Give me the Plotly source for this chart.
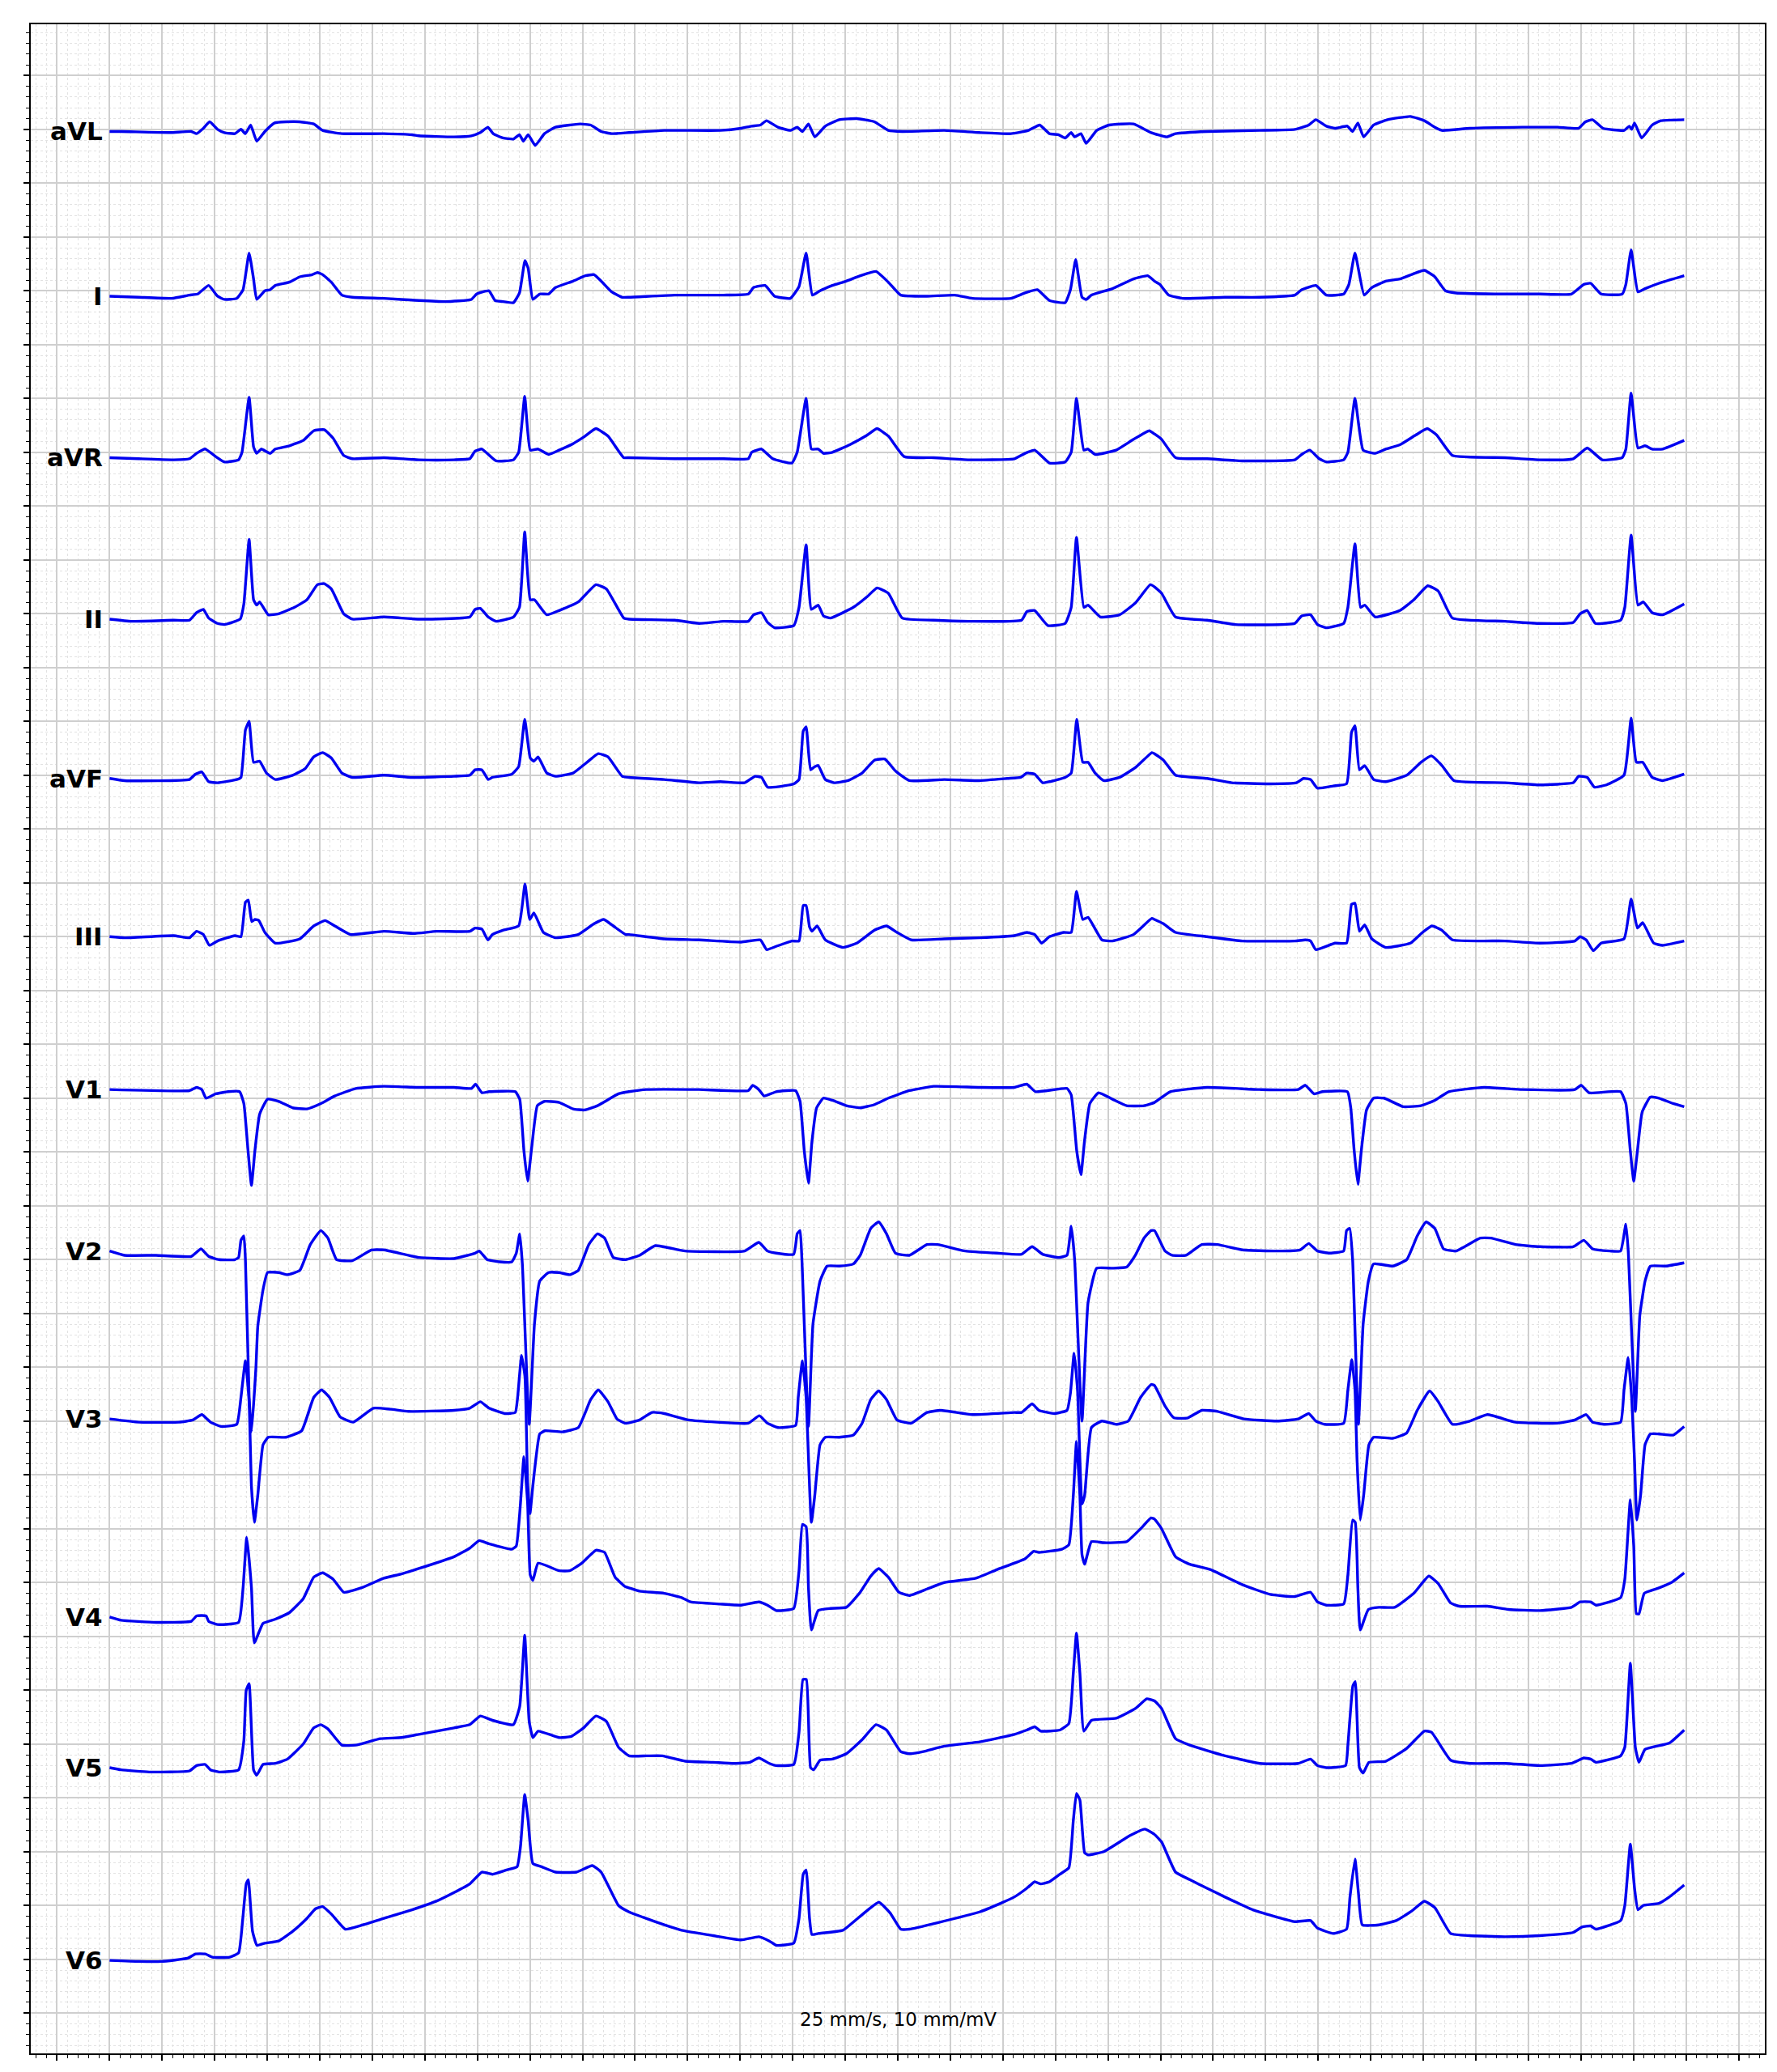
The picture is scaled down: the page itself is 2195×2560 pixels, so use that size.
import plotly.graph_objects as go

# 12-lead ECG, 6 s strip, 25 mm/s, 10 mm/mV
# each lead: (time s, amplitude mV) points, relative to its own baseline

AVL = [(0.000,-0.02),(0.044,-0.02),(0.231,-0.03),(0.311,-0.02),(0.331,-0.04),(0.357,0.01),(0.381,0.07),(0.411,0.00),(0.437,-0.03),(0.477,-0.04),(0.500,0.00),(0.517,-0.04),(0.537,0.04),(0.560,-0.11),(0.591,-0.02),(0.628,0.06),(0.671,0.07),(0.724,0.07),(0.777,0.05),(0.811,-0.01),(0.884,-0.04),(1.044,-0.04),(1.151,-0.05),(1.177,-0.06),(1.311,-0.07),(1.377,-0.06),(1.411,-0.03),(1.440,0.02),(1.460,-0.04),(1.497,-0.08),(1.537,-0.09),(1.560,-0.05),(1.575,-0.11),(1.593,-0.05),(1.620,-0.15),(1.655,-0.04),(1.697,0.02),(1.791,0.05),(1.831,0.04),(1.871,-0.02),(1.911,-0.04),
       (1.977,-0.03),(2.111,-0.01),(2.324,-0.01),(2.404,0.01),(2.444,0.03),(2.477,0.04),(2.500,0.08),(2.544,0.02),(2.591,-0.01),(2.617,0.02),(2.637,-0.02),(2.660,0.05),(2.684,-0.07),(2.724,0.03),(2.777,0.09),(2.844,0.10),(2.911,0.07),(2.964,-0.01),(3.017,-0.02),(3.177,-0.01),(3.311,-0.03),(3.431,-0.04),(3.497,-0.01),(3.540,0.04),(3.577,-0.04),(3.611,-0.05),(3.637,-0.08),(3.660,-0.03),(3.673,-0.07),(3.697,-0.04),(3.717,-0.13),(3.757,-0.01),(3.804,0.04),(3.897,0.05),(3.964,-0.03),
       (4.024,-0.07),(4.057,-0.04),(4.177,-0.02),(4.377,-0.01),(4.511,0.00),(4.564,0.04),(4.591,0.09),(4.631,0.03),(4.664,0.01),(4.711,0.03),(4.731,-0.02),(4.751,0.06),(4.773,-0.07),(4.811,0.04),(4.864,0.09),(4.951,0.12),(5.004,0.08),(5.044,0.02),(5.071,-0.01),(5.177,0.01),(5.377,0.02),(5.511,0.02),(5.591,0.01),(5.617,0.07),(5.644,0.09),(5.684,0.01),(5.764,-0.01),(5.784,0.03),(5.793,0.00),(5.804,0.06),(5.831,-0.08),(5.871,0.04),(5.904,0.08),(5.993,0.09)]

LEAD_I = [(0.000,-0.05),(0.111,-0.06),(0.237,-0.07),(0.304,-0.04),(0.335,-0.03),(0.377,0.05),(0.411,-0.05),(0.437,-0.08),(0.484,-0.07),(0.508,0.01),(0.531,0.35),(0.548,0.11),(0.560,-0.08),(0.591,0.00),(0.611,0.01),(0.631,0.05),(0.684,0.08),(0.724,0.13),(0.771,0.15),(0.791,0.17),(0.811,0.15),(0.844,0.08),(0.884,-0.04),(0.924,-0.06),(1.044,-0.07),(1.177,-0.09),(1.277,-0.10),(1.377,-0.08),(1.397,-0.03),(1.444,0.00),(1.467,-0.09),(1.497,-0.10),(1.537,-0.11),(1.560,-0.02),(1.581,0.28),(1.593,0.21),(1.611,-0.08),(1.637,-0.03),(1.671,-0.03),(1.697,0.03),(1.764,0.09),(1.811,0.14),(1.844,0.15),(1.871,0.09),(1.911,-0.01),(1.951,-0.06),
          (1.977,-0.06),(2.151,-0.04),(2.337,-0.04),(2.431,-0.03),(2.451,0.03),(2.495,0.05),(2.531,-0.05),(2.591,-0.07),(2.624,0.04),(2.651,0.35),(2.675,-0.04),(2.704,0.00),(2.751,0.05),(2.804,0.09),(2.857,0.14),(2.917,0.18),(2.964,0.08),(3.011,-0.04),(3.111,-0.05),(3.217,-0.04),(3.284,-0.07),(3.431,-0.07),(3.484,-0.02),(3.531,0.01),(3.577,-0.09),(3.637,-0.11),(3.657,0.01),(3.677,0.29),(3.701,-0.06),(3.717,-0.08),(3.737,-0.04),(3.817,0.02),(3.897,0.11),(3.951,0.14),
          (3.977,0.09),(3.997,0.06),(4.031,-0.04),(4.084,-0.07),(4.244,-0.06),(4.377,-0.06),(4.511,-0.04),(4.537,0.01),(4.591,0.05),(4.631,-0.04),(4.697,-0.03),(4.717,0.06),(4.740,0.35),(4.775,-0.04),(4.804,0.03),(4.857,0.09),(4.911,0.11),(4.964,0.16),(5.004,0.19),(5.044,0.13),(5.084,0.00),(5.124,-0.02),(5.311,-0.03),(5.444,-0.03),(5.564,-0.03),(5.611,0.06),(5.637,0.07),(5.677,-0.03),(5.757,-0.03),(5.771,0.06),(5.791,0.38),(5.817,-0.01),(5.844,0.02),(5.897,0.07),(5.993,0.14)]

AVR = [(0.000,-0.05),(0.111,-0.06),(0.244,-0.07),(0.304,-0.06),(0.331,-0.01),(0.364,0.03),(0.404,-0.04),(0.437,-0.09),(0.491,-0.07),(0.504,0.00),(0.531,0.51),(0.548,0.05),(0.560,-0.01),(0.577,0.03),(0.611,-0.01),(0.631,0.03),(0.684,0.06),(0.737,0.11),(0.777,0.20),(0.817,0.21),(0.851,0.13),(0.891,-0.03),(0.924,-0.06),(1.044,-0.05),(1.177,-0.07),(1.311,-0.07),(1.371,-0.06),(1.391,0.01),(1.417,0.03),(1.471,-0.08),(1.537,-0.07),(1.557,0.00),(1.580,0.52),(1.601,0.02),(1.631,0.03),(1.671,-0.02),(1.711,0.02),(1.764,0.08),(1.804,0.14),(1.851,0.22),(1.897,0.15),(1.957,-0.05),
       (1.977,-0.05),(2.151,-0.06),(2.337,-0.06),(2.431,-0.06),(2.444,0.00),(2.481,0.03),(2.524,-0.06),(2.597,-0.10),(2.617,0.00),(2.651,0.50),(2.671,0.03),(2.697,0.03),(2.717,-0.01),(2.751,0.00),(2.817,0.07),(2.884,0.16),(2.921,0.22),(2.964,0.15),(3.024,-0.04),(3.137,-0.05),(3.271,-0.07),(3.444,-0.06),(3.484,-0.01),(3.521,0.02),(3.577,-0.10),(3.637,-0.09),(3.660,0.00),(3.680,0.50),(3.708,0.02),(3.724,0.03),(3.751,-0.02),(3.831,0.02),(3.897,0.12),(3.957,0.20),
       (3.977,0.17),(4.004,0.12),(4.057,-0.05),(4.177,-0.06),(4.311,-0.08),(4.511,-0.07),(4.537,-0.02),(4.568,0.02),(4.604,-0.06),(4.631,-0.09),(4.697,-0.07),(4.713,0.00),(4.740,0.50),(4.771,0.02),(4.817,-0.01),(4.857,0.03),(4.911,0.07),(4.971,0.16),(5.015,0.22),(5.051,0.16),(5.111,-0.03),(5.311,-0.05),(5.444,-0.07),(5.571,-0.06),(5.624,0.04),(5.681,-0.07),(5.757,-0.05),(5.771,0.03),(5.791,0.55),(5.817,0.04),(5.844,0.06),(5.871,0.03),(5.911,0.03),(5.993,0.11)]

LEAD_II = [(0.000,-0.05),(0.084,-0.07),(0.244,-0.06),(0.304,-0.06),(0.331,0.01),(0.357,0.04),(0.377,-0.04),(0.411,-0.09),(0.437,-0.10),(0.497,-0.05),(0.511,0.09),(0.531,0.69),(0.548,0.13),(0.560,0.08),(0.571,0.11),(0.604,-0.01),(0.644,0.00),(0.704,0.06),(0.751,0.13),(0.791,0.27),(0.817,0.28),(0.844,0.23),(0.891,0.00),(0.924,-0.05),(1.044,-0.03),(1.177,-0.05),(1.371,-0.03),(1.391,0.04),(1.411,0.05),(1.441,-0.03),(1.471,-0.07),(1.537,-0.03),(1.560,0.06),(1.580,0.76),(1.601,0.13),(1.617,0.13),(1.664,-0.01),(1.711,0.03),(1.784,0.11),(1.851,0.27),(1.891,0.23),(1.957,-0.04),
           (1.977,-0.05),(2.151,-0.06),(2.244,-0.09),(2.337,-0.07),(2.431,-0.07),(2.451,-0.01),(2.481,0.01),(2.504,-0.08),(2.531,-0.13),(2.604,-0.11),(2.624,0.06),(2.651,0.64),(2.671,0.04),(2.697,0.08),(2.717,-0.02),(2.744,-0.04),(2.831,0.06),(2.884,0.16),(2.921,0.24),(2.964,0.19),(3.017,-0.04),(3.137,-0.06),(3.271,-0.07),(3.471,-0.06),(3.491,0.02),(3.521,0.03),(3.571,-0.11),(3.637,-0.09),(3.660,0.06),(3.680,0.71),(3.708,0.06),(3.724,0.08),(3.771,-0.03),(3.844,-0.01),(3.904,0.10),(3.961,0.27),
           (3.977,0.25),(4.004,0.19),(4.057,-0.03),(4.177,-0.06),(4.284,-0.10),(4.511,-0.09),(4.537,-0.02),(4.571,-0.01),(4.597,-0.10),(4.631,-0.13),(4.697,-0.09),(4.713,0.06),(4.740,0.65),(4.761,0.06),(4.777,0.08),(4.817,-0.03),(4.911,0.03),(4.964,0.13),(5.017,0.26),(5.057,0.21),(5.111,-0.04),(5.311,-0.07),(5.444,-0.09),(5.571,-0.08),(5.597,0.00),(5.624,0.03),(5.655,-0.09),(5.751,-0.06),(5.767,0.06),(5.791,0.73),(5.817,0.08),(5.837,0.11),(5.871,0.01),(5.911,-0.01),(5.993,0.09)]

AVF = [(0.000,-0.03),(0.057,-0.05),(0.304,-0.04),(0.327,0.01),(0.351,0.03),(0.377,-0.06),(0.411,-0.07),(0.484,-0.04),(0.500,-0.02),(0.517,0.42),(0.531,0.50),(0.548,0.12),(0.571,0.13),(0.597,0.02),(0.631,-0.04),(0.697,0.00),(0.744,0.06),(0.777,0.17),(0.811,0.21),(0.844,0.16),(0.884,0.02),(0.924,-0.02),(1.044,0.00),(1.151,-0.02),(1.311,-0.01),(1.371,0.00),(1.391,0.05),(1.417,0.05),(1.441,-0.04),(1.457,-0.02),(1.531,0.01),(1.557,0.08),(1.580,0.52),(1.601,0.16),(1.615,0.13),(1.631,0.17),(1.664,0.02),(1.697,-0.01),(1.764,0.02),(1.817,0.12),(1.860,0.20),(1.897,0.17),(1.951,-0.01),
       (1.977,-0.02),(2.111,-0.04),(2.244,-0.07),(2.324,-0.06),(2.417,-0.07),(2.437,-0.04),(2.457,-0.01),(2.481,-0.02),(2.504,-0.11),(2.537,-0.11),(2.604,-0.08),(2.624,-0.04),(2.640,0.41),(2.651,0.45),(2.668,0.05),(2.684,0.08),(2.697,0.09),(2.724,-0.04),(2.757,-0.07),(2.811,-0.05),(2.864,0.02),(2.911,0.14),(2.951,0.15),(2.991,0.04),(3.044,-0.05),(3.177,-0.04),(3.311,-0.05),(3.417,-0.03),(3.468,-0.02),(3.491,0.02),(3.521,0.01),(3.551,-0.07),(3.577,-0.06),(3.637,-0.02),(3.660,0.02),(3.681,0.52),(3.704,0.12),(3.724,0.12),(3.751,0.02),(3.784,-0.05),(3.844,-0.02),(3.904,0.07),(3.967,0.21),
       (3.977,0.20),(4.011,0.14),(4.057,0.00),(4.177,-0.03),(4.271,-0.07),(4.417,-0.08),(4.517,-0.07),(4.544,-0.03),(4.571,-0.04),(4.597,-0.12),(4.657,-0.10),(4.708,-0.08),(4.727,0.40),(4.740,0.46),(4.757,0.05),(4.777,0.09),(4.811,-0.04),(4.857,-0.06),(4.937,0.00),(4.991,0.12),(5.031,0.18),(5.071,0.09),(5.117,-0.05),(5.311,-0.07),(5.444,-0.09),(5.571,-0.07),(5.591,-0.01),(5.624,-0.02),(5.651,-0.11),(5.697,-0.09),(5.764,0.00),(5.791,0.53),(5.811,0.12),(5.835,0.12),(5.871,-0.02),(5.911,-0.05),(5.993,0.01)]

LEAD_III = [(0.000,0.00),(0.057,-0.01),(0.244,0.01),(0.304,-0.01),(0.331,0.05),(0.357,0.02),(0.380,-0.08),(0.411,-0.04),(0.477,0.01),(0.500,0.00),(0.517,0.32),(0.528,0.34),(0.541,0.14),(0.553,0.16),(0.568,0.15),(0.591,0.04),(0.631,-0.06),(0.724,-0.02),(0.777,0.10),(0.820,0.15),(0.857,0.10),(0.917,0.02),(1.044,0.05),(1.157,0.03),(1.244,0.05),(1.371,0.05),(1.391,0.08),(1.417,0.07),(1.440,-0.03),(1.457,0.02),(1.497,0.06),(1.557,0.10),(1.581,0.49),(1.599,0.16),(1.615,0.22),(1.651,0.04),(1.697,-0.01),(1.784,0.02),(1.844,0.12),(1.881,0.16),(1.917,0.10),(1.964,0.02),
            (1.977,0.02),(2.111,-0.02),(2.244,-0.03),(2.404,-0.05),(2.477,-0.03),(2.501,-0.12),(2.537,-0.09),(2.597,-0.04),(2.624,-0.04),(2.640,0.29),(2.651,0.29),(2.664,0.09),(2.673,0.05),(2.693,0.10),(2.724,-0.03),(2.791,-0.10),(2.844,-0.06),(2.911,0.06),(2.957,0.10),(2.997,0.04),(3.051,-0.03),(3.177,-0.02),(3.311,-0.01),(3.444,0.01),(3.491,0.04),(3.521,0.02),(3.547,-0.06),(3.577,0.00),(3.631,0.04),(3.660,0.04),(3.680,0.42),(3.704,0.16),(3.724,0.18),(3.777,-0.03),(3.817,-0.04),(3.897,0.02),(3.967,0.17),
            (3.977,0.16),(4.011,0.12),(4.057,0.04),(4.177,0.00),(4.311,-0.04),(4.511,-0.04),(4.551,-0.03),(4.571,-0.04),(4.591,-0.12),(4.664,-0.06),(4.708,-0.06),(4.727,0.30),(4.740,0.31),(4.757,0.05),(4.777,0.11),(4.804,-0.02),(4.857,-0.10),(4.951,-0.06),(4.997,0.04),(5.033,0.10),(5.071,0.06),(5.111,-0.03),(5.311,-0.04),(5.444,-0.06),(5.577,-0.04),(5.597,0.00),(5.620,-0.03),(5.647,-0.13),(5.677,-0.06),(5.764,-0.02),(5.791,0.35),(5.815,0.08),(5.835,0.13),(5.877,-0.06),(5.911,-0.08),(5.993,-0.04)]

V1 = [(0.000,0.08),(0.304,0.07),(0.331,0.10),(0.351,0.08),(0.367,0.00),(0.404,0.04),(0.451,0.06),(0.495,0.06),(0.511,-0.05),(0.527,-0.49),(0.540,-0.81),(0.553,-0.49),(0.571,-0.15),(0.601,-0.01),(0.644,-0.03),(0.697,-0.09),(0.751,-0.10),(0.804,-0.05),(0.857,0.02),(0.937,0.09),(1.044,0.11),(1.177,0.10),(1.311,0.10),(1.377,0.09),(1.393,0.13),(1.417,0.05),(1.444,0.06),(1.544,0.06),(1.561,-0.01),(1.577,-0.49),(1.591,-0.77),(1.607,-0.45),(1.628,-0.07),(1.655,-0.03),(1.711,-0.04),(1.764,-0.10),(1.807,-0.11),(1.857,-0.07),(1.937,0.04),
      (1.977,0.06),(2.044,0.08),(2.244,0.08),(2.431,0.07),(2.448,0.12),(2.471,0.08),(2.491,0.02),(2.537,0.06),(2.611,0.07),(2.628,-0.03),(2.644,-0.49),(2.660,-0.79),(2.673,-0.41),(2.691,-0.09),(2.717,0.00),(2.751,-0.02),(2.804,-0.07),(2.857,-0.09),(2.911,-0.06),(2.964,0.00),(3.044,0.07),(3.137,0.11),(3.311,0.10),(3.444,0.10),(3.491,0.13),(3.524,0.06),(3.644,0.09),(3.660,0.03),(3.681,-0.49),(3.697,-0.71),(3.711,-0.39),(3.731,-0.05),(3.764,0.05),(3.817,-0.01),(3.871,-0.07),(3.937,-0.07),
      (3.977,-0.04),(4.037,0.06),(4.177,0.10),(4.377,0.08),(4.524,0.08),(4.551,0.12),(4.584,0.04),(4.617,0.06),(4.711,0.06),(4.724,-0.09),(4.737,-0.49),(4.751,-0.80),(4.764,-0.49),(4.784,-0.11),(4.811,0.00),(4.851,0.00),(4.924,-0.08),(4.991,-0.07),(5.044,-0.02),(5.097,0.06),(5.231,0.10),(5.377,0.08),(5.577,0.08),(5.601,0.12),(5.631,0.05),(5.751,0.06),(5.771,-0.05),(5.788,-0.49),(5.801,-0.77),(5.815,-0.49),(5.833,-0.13),(5.864,0.01),(5.897,0.00),(5.951,-0.05),(5.993,-0.08)]

V2 = [(0.000,0.08),(0.057,0.04),(0.177,0.04),(0.311,0.03),(0.348,0.10),(0.377,0.03),(0.417,0.00),(0.477,0.00),(0.491,0.02),(0.500,0.18),(0.511,0.22),(0.517,0.00),(0.531,-1.27),(0.540,-1.60),(0.557,-1.00),(0.564,-0.62),(0.584,-0.28),(0.601,-0.12),(0.644,-0.12),(0.677,-0.14),(0.724,-0.10),(0.764,0.14),(0.804,0.27),(0.831,0.20),(0.864,0.00),(0.924,-0.01),(0.997,0.09),(1.044,0.09),(1.177,0.02),(1.311,0.01),(1.391,0.06),(1.407,0.08),(1.437,0.00),(1.484,-0.02),(1.531,-0.02),(1.548,0.06),(1.561,0.24),(1.571,-0.04),(1.597,-1.53),(1.617,-0.60),(1.637,-0.20),(1.671,-0.12),(1.711,-0.12),(1.751,-0.14),(1.784,-0.10),(1.824,0.14),(1.857,0.24),(1.884,0.20),(1.917,0.02),(1.964,0.00),
      (2.017,0.04),(2.077,0.13),(2.191,0.08),(2.417,0.08),(2.471,0.16),(2.504,0.08),(2.537,0.06),(2.604,0.05),(2.617,0.24),(2.628,0.27),(2.635,0.00),(2.660,-1.55),(2.677,-0.60),(2.704,-0.20),(2.731,-0.06),(2.777,-0.06),(2.831,-0.04),(2.857,0.04),(2.897,0.29),(2.927,0.35),(2.957,0.24),(2.991,0.06),(3.044,0.04),(3.111,0.14),(3.151,0.14),(3.257,0.08),(3.377,0.06),(3.471,0.05),(3.511,0.12),(3.551,0.05),(3.611,0.02),(3.644,0.04),(3.660,0.31),(3.673,0.00),(3.701,-1.50),(3.724,-0.40),(3.757,-0.08),(3.817,-0.08),(3.871,-0.07),(3.904,0.04),(3.937,0.20),(3.964,0.27),
      (3.977,0.27),(4.017,0.08),(4.044,0.04),(4.097,0.04),(4.157,0.14),(4.217,0.14),(4.311,0.09),(4.444,0.08),(4.531,0.09),(4.564,0.15),(4.597,0.08),(4.644,0.06),(4.697,0.08),(4.708,0.27),(4.720,0.29),(4.731,0.00),(4.753,-1.53),(4.771,-0.60),(4.791,-0.20),(4.811,-0.04),(4.884,-0.06),(4.937,0.00),(4.977,0.22),(5.011,0.35),(5.044,0.29),(5.077,0.10),(5.124,0.08),(5.217,0.20),(5.257,0.20),(5.351,0.14),(5.444,0.12),(5.571,0.12),(5.611,0.18),(5.644,0.10),(5.711,0.08),(5.751,0.08),(5.771,0.33),(5.780,0.08),(5.807,-1.41),(5.824,-0.52),(5.844,-0.20),(5.864,-0.06),(5.924,-0.06),(5.993,-0.03)]

V3 = [(0.000,0.02),(0.111,-0.01),(0.264,-0.01),(0.317,0.01),(0.351,0.06),(0.384,-0.01),(0.424,-0.05),(0.484,-0.03),(0.500,0.22),(0.517,0.56),(0.531,0.18),(0.540,-0.61),(0.551,-0.94),(0.564,-0.69),(0.584,-0.22),(0.604,-0.15),(0.671,-0.15),(0.731,-0.09),(0.777,0.22),(0.807,0.29),(0.837,0.22),(0.877,0.04),(0.927,-0.01),(1.004,0.12),(1.071,0.11),(1.137,0.09),(1.311,0.10),(1.371,0.12),(1.411,0.18),(1.444,0.12),(1.504,0.07),(1.544,0.08),(1.553,0.22),(1.568,0.61),(1.581,0.41),(1.591,-0.57),(1.600,-0.86),(1.611,-0.60),(1.637,-0.12),(1.657,-0.09),(1.724,-0.10),(1.784,-0.06),(1.831,0.20),(1.860,0.29),(1.897,0.18),(1.931,0.02),(1.964,-0.02),
      (2.017,0.01),(2.064,0.08),(2.111,0.07),(2.204,0.01),(2.311,-0.01),(2.431,-0.02),(2.473,0.05),(2.504,-0.02),(2.544,-0.06),(2.611,-0.04),(2.621,0.22),(2.637,0.56),(2.651,0.22),(2.671,-0.94),(2.684,-0.69),(2.704,-0.22),(2.724,-0.15),(2.777,-0.15),(2.831,-0.13),(2.864,-0.02),(2.897,0.20),(2.927,0.28),(2.957,0.20),(2.997,0.01),(3.051,-0.02),(3.111,0.08),(3.164,0.10),(3.284,0.06),(3.444,0.08),(3.471,0.08),(3.511,0.16),(3.537,0.10),(3.597,0.07),(3.644,0.10),(3.657,0.26),(3.671,0.63),(3.684,0.29),(3.701,-0.77),(3.711,-0.69),(3.737,-0.06),(3.777,0.00),(3.831,-0.03),(3.877,0.00),(3.924,0.22),(3.964,0.34),
      (3.977,0.33),(4.017,0.14),(4.051,0.03),(4.104,0.03),(4.157,0.10),(4.217,0.09),(4.317,0.02),(4.444,0.00),(4.524,0.02),(4.564,0.07),(4.591,0.00),(4.624,-0.03),(4.697,-0.02),(4.713,0.29),(4.728,0.57),(4.740,0.29),(4.748,-0.37),(4.760,-0.92),(4.773,-0.69),(4.793,-0.22),(4.811,-0.15),(4.884,-0.16),(4.937,-0.11),(4.977,0.10),(5.024,0.28),(5.057,0.18),(5.111,-0.03),(5.177,0.00),(5.244,0.06),(5.351,-0.01),(5.511,-0.02),(5.577,0.01),(5.620,0.06),(5.644,-0.01),(5.691,-0.03),(5.751,-0.01),(5.764,0.29),(5.780,0.59),(5.793,0.22),(5.804,-0.37),(5.813,-0.92),(5.827,-0.69),(5.844,-0.22),(5.864,-0.12),(5.897,-0.12),(5.951,-0.13),(5.993,-0.05)]

V4 = [(0.000,-0.32),(0.044,-0.35),(0.177,-0.37),(0.311,-0.36),(0.331,-0.31),(0.367,-0.31),(0.377,-0.36),(0.411,-0.39),(0.491,-0.37),(0.508,-0.05),(0.522,0.42),(0.540,-0.05),(0.551,-0.56),(0.584,-0.38),(0.631,-0.34),(0.684,-0.28),(0.737,-0.15),(0.777,0.05),(0.811,0.09),(0.851,0.03),(0.891,-0.09),(0.957,-0.05),(1.044,0.04),(1.111,0.08),(1.177,0.13),(1.311,0.24),(1.371,0.32),(1.407,0.39),(1.444,0.36),(1.531,0.31),(1.548,0.34),(1.564,0.74),(1.577,1.17),(1.591,0.74),(1.601,0.07),(1.611,0.02),(1.631,0.18),(1.711,0.11),(1.751,0.11),(1.797,0.18),(1.851,0.30),(1.884,0.28),(1.924,0.05),(1.964,-0.04),
      (1.977,-0.05),(2.017,-0.08),(2.111,-0.10),(2.177,-0.14),(2.211,-0.18),(2.324,-0.20),(2.404,-0.21),(2.471,-0.18),(2.504,-0.21),(2.537,-0.26),(2.604,-0.24),(2.624,0.11),(2.637,0.54),(2.651,0.52),(2.660,-0.05),(2.671,-0.44),(2.697,-0.26),(2.744,-0.24),(2.804,-0.23),(2.857,-0.09),(2.897,0.06),(2.927,0.13),(2.964,0.05),(3.004,-0.09),(3.044,-0.12),(3.111,-0.06),(3.177,0.00),(3.297,0.04),(3.377,0.12),(3.484,0.22),(3.517,0.29),(3.537,0.28),(3.624,0.31),(3.651,0.35),(3.668,0.81),(3.680,1.31),(3.693,0.81),(3.701,0.26),(3.711,0.17),(3.737,0.38),(3.784,0.37),(3.871,0.38),(3.924,0.50),(3.964,0.60),
      (3.977,0.59),(4.004,0.50),(4.057,0.24),(4.111,0.17),(4.191,0.12),(4.311,-0.02),(4.417,-0.11),(4.511,-0.13),(4.571,-0.09),(4.597,-0.18),(4.631,-0.21),(4.697,-0.20),(4.713,0.07),(4.731,0.58),(4.741,0.56),(4.751,-0.05),(4.760,-0.44),(4.791,-0.25),(4.831,-0.23),(4.891,-0.23),(4.964,-0.10),(5.021,0.06),(5.057,-0.01),(5.104,-0.19),(5.137,-0.22),(5.244,-0.22),(5.324,-0.25),(5.444,-0.26),(5.564,-0.23),(5.597,-0.18),(5.637,-0.18),(5.657,-0.21),(5.751,-0.14),(5.767,0.03),(5.788,0.77),(5.801,0.34),(5.811,-0.29),(5.821,-0.29),(5.841,-0.10),(5.897,-0.05),(5.944,0.00),(5.993,0.09)]

V5 = [(0.000,-0.22),(0.044,-0.24),(0.151,-0.26),(0.304,-0.25),(0.331,-0.20),(0.364,-0.19),(0.384,-0.24),(0.417,-0.26),(0.491,-0.24),(0.511,0.03),(0.520,0.50),(0.531,0.56),(0.548,-0.24),(0.560,-0.29),(0.584,-0.19),(0.631,-0.18),(0.677,-0.14),(0.737,0.00),(0.777,0.15),(0.804,0.18),(0.831,0.14),(0.884,-0.01),(0.937,-0.01),(1.031,0.05),(1.111,0.06),(1.177,0.09),(1.311,0.15),(1.371,0.18),(1.411,0.26),(1.457,0.22),(1.537,0.18),(1.561,0.35),(1.580,1.01),(1.597,0.21),(1.611,0.06),(1.631,0.12),(1.711,0.06),(1.757,0.07),(1.804,0.15),(1.851,0.26),(1.891,0.21),(1.937,-0.03),
      (1.977,-0.11),(2.044,-0.11),(2.104,-0.11),(2.191,-0.16),(2.297,-0.17),(2.377,-0.18),(2.437,-0.17),(2.471,-0.13),(2.511,-0.18),(2.537,-0.20),(2.604,-0.19),(2.624,0.11),(2.639,0.60),(2.652,0.60),(2.668,-0.22),(2.680,-0.24),(2.704,-0.15),(2.751,-0.14),(2.804,-0.09),(2.864,0.04),(2.917,0.18),(2.957,0.13),(3.011,-0.07),(3.044,-0.09),(3.097,-0.07),(3.177,-0.02),(3.311,0.02),(3.444,0.09),(3.491,0.13),(3.521,0.16),(3.544,0.12),(3.617,0.13),(3.651,0.19),(3.668,0.66),(3.680,1.03),(3.693,0.66),(3.708,0.12),(3.737,0.22),(3.831,0.24),(3.904,0.33),(3.948,0.42),
      (3.977,0.40),(4.004,0.33),(4.057,0.05),(4.111,-0.01),(4.231,-0.10),(4.377,-0.18),(4.524,-0.18),(4.571,-0.14),(4.597,-0.20),(4.631,-0.22),(4.704,-0.20),(4.713,-0.01),(4.732,0.54),(4.741,0.58),(4.757,-0.22),(4.771,-0.27),(4.793,-0.17),(4.857,-0.16),(4.937,-0.04),(5.004,0.12),(5.031,0.11),(5.104,-0.15),(5.177,-0.18),(5.311,-0.18),(5.444,-0.20),(5.564,-0.18),(5.611,-0.13),(5.637,-0.14),(5.657,-0.17),(5.751,-0.11),(5.767,-0.03),(5.788,0.75),(5.807,-0.03),(5.821,-0.17),(5.844,-0.05),(5.937,0.01),(5.993,0.13)]

V6 = [(0.000,-0.51),(0.111,-0.52),(0.197,-0.52),(0.297,-0.49),(0.327,-0.45),(0.364,-0.45),(0.391,-0.48),(0.457,-0.48),(0.491,-0.44),(0.507,-0.12),(0.520,0.20),(0.528,0.24),(0.544,-0.24),(0.561,-0.37),(0.591,-0.35),(0.644,-0.33),(0.697,-0.24),(0.751,-0.12),(0.784,-0.03),(0.811,-0.01),(0.844,-0.08),(0.897,-0.22),(0.964,-0.18),(1.044,-0.12),(1.151,-0.04),(1.244,0.04),(1.311,0.12),(1.371,0.20),(1.417,0.31),(1.457,0.29),(1.511,0.33),(1.551,0.36),(1.564,0.55),(1.580,1.03),(1.593,0.79),(1.611,0.39),(1.644,0.36),(1.697,0.31),(1.777,0.31),(1.837,0.37),(1.871,0.31),(1.937,0.00),
      (1.977,-0.06),(2.031,-0.11),(2.111,-0.18),(2.177,-0.23),(2.297,-0.28),(2.404,-0.32),(2.471,-0.29),(2.511,-0.33),(2.537,-0.37),(2.604,-0.35),(2.624,-0.12),(2.640,0.29),(2.651,0.33),(2.664,-0.12),(2.673,-0.27),(2.697,-0.26),(2.791,-0.23),(2.857,-0.10),(2.928,0.03),(2.971,-0.07),(3.011,-0.22),(3.044,-0.22),(3.151,-0.16),(3.311,-0.06),(3.391,0.02),(3.444,0.08),(3.491,0.16),(3.521,0.22),(3.544,0.20),(3.577,0.22),(3.617,0.29),(3.651,0.35),(3.668,0.79),(3.680,1.04),(3.693,0.98),(3.711,0.49),(3.724,0.47),(3.784,0.50),(3.884,0.65),(3.940,0.71),
      (3.977,0.66),(4.004,0.59),(4.057,0.31),(4.111,0.24),(4.177,0.16),(4.244,0.08),(4.351,-0.04),(4.511,-0.15),(4.571,-0.14),(4.597,-0.21),(4.657,-0.26),(4.708,-0.22),(4.721,0.08),(4.740,0.43),(4.753,0.12),(4.768,-0.18),(4.831,-0.18),(4.897,-0.14),(4.957,-0.05),(5.004,0.04),(5.044,-0.02),(5.104,-0.26),(5.177,-0.28),(5.311,-0.29),(5.444,-0.28),(5.571,-0.25),(5.604,-0.20),(5.637,-0.19),(5.657,-0.22),(5.751,-0.14),(5.767,0.00),(5.788,0.57),(5.804,0.16),(5.817,-0.04),(5.837,0.00),(5.897,0.02),(5.937,0.08),(5.993,0.19)]

LEAD_NAMES = ["aVL", "I", "aVR", "II", "aVF", "III", "V1", "V2", "V3", "V4", "V5", "V6"]
LEADS = [AVL, LEAD_I, AVR, LEAD_II, AVF, LEAD_III, V1, V2, V3, V4, V5, V6]
SPEED_NOTE = "25 mm/s, 10 mm/mV"

row_gap = 1.5  # mV between baselines (3 big squares)

fig = go.Figure()
for i, (name, pts) in enumerate(zip(LEAD_NAMES, LEADS)):
    base = -row_gap * i
    t = [p[0] for p in pts]
    v = [p[1] + base for p in pts]
    fig.add_trace(go.Scatter(x=t, y=v, mode="lines",
                             line=dict(color="#0000f0", width=3.4, shape="spline", smoothing=0.4),
                             hoverinfo="skip", showlegend=False))
    fig.add_annotation(x=-0.02, y=v[0], text=name, showarrow=False,
                       xanchor="right", yanchor="middle",
                       font=dict(family="DejaVu Sans", size=31, color="black", weight="bold"))

fig.add_annotation(x=3.0, y=-17.56, text=SPEED_NOTE, showarrow=False,
                   xanchor="center", yanchor="middle",
                   font=dict(family="DejaVu Sans", size=23, color="black"))

grid_major = "#cfcfcf"
grid_minor = "#e2e2e2"
axis_common = dict(showgrid=True, gridcolor=grid_major, gridwidth=2,
                   ticks="outside", ticklen=7, tickwidth=1.5, tickcolor="black",
                   showticklabels=False, showline=True, linecolor="black",
                   linewidth=1.5, mirror=True, zeroline=False)

fig.update_xaxes(range=[-0.3, 6.3], tick0=0, dtick=0.2,
                 minor=dict(tick0=0, dtick=0.04, showgrid=True, gridcolor=grid_minor,
                            gridwidth=1, griddash="dot", ticks="outside", ticklen=4,
                            tickcolor="black", tickwidth=1),
                 **axis_common)
fig.update_yaxes(range=[-17.874, 0.976], tick0=0, dtick=0.5,
                 minor=dict(tick0=0, dtick=0.1, showgrid=True, gridcolor=grid_minor,
                            gridwidth=1, griddash="dot", ticks="outside", ticklen=4,
                            tickcolor="black", tickwidth=1),
                 **axis_common)

fig.update_layout(width=2195, height=2560,
                  margin=dict(l=30, r=23, t=22, b=31),
                  paper_bgcolor="white", plot_bgcolor="white",
                  showlegend=False)

fig.write_html("out.html")
